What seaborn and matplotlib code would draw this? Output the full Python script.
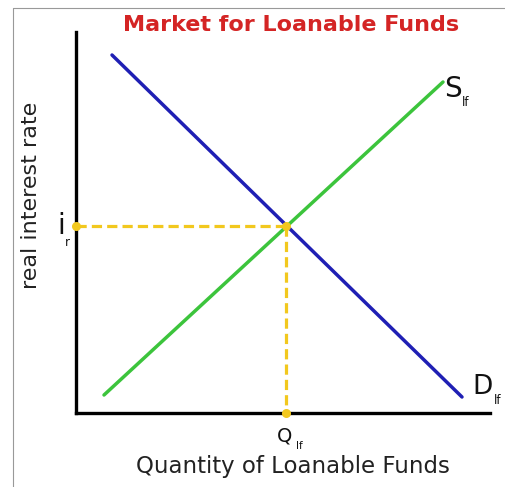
import matplotlib
matplotlib.use("Agg")
import matplotlib.pyplot as plt
import matplotlib.lines as mlines
import seaborn as sns
import pandas as pd

sns.set_theme(style="white")
plt.rcParams['font.family'] = ['DejaVu Sans']

# Data (quantity on x, interest rate on y)
demand_q = [36, 386]
demand_r = [358, 16]
supply_q = [28, 367]
supply_r = [18, 331]
eq_q = 210
eq_r = 187

W, H = 505, 487
fig = plt.figure(figsize=(W / 100, H / 100), dpi=100)
fig.patch.set_facecolor("white")

x0, y0, x1, y1 = 76, 413, 490, 32
ax = fig.add_axes([x0 / W, (H - y0) / H, (x1 - x0) / W, (y0 - y1) / H])
ax.set_xlim(0, x1 - x0)
ax.set_ylim(0, y0 - y1)
ax.set_facecolor("none")

dem = pd.DataFrame({"q": demand_q, "r": demand_r})
sup = pd.DataFrame({"q": supply_q, "r": supply_r})
sns.lineplot(data=dem, x="q", y="r", ax=ax, color="#1f1fb4", lw=2.5, estimator=None, sort=False)
sns.lineplot(data=sup, x="q", y="r", ax=ax, color="#3cc43c", lw=2.5, estimator=None, sort=False)

gold = "#f2c81e"
ax.plot([0, eq_q], [eq_r, eq_r], color=gold, lw=2.3, ls=(0, (3.2, 1.6)), clip_on=False)
ax.plot([eq_q, eq_q], [eq_r, 0], color=gold, lw=2.3, ls=(0, (3.2, 1.6)), clip_on=False)
ax.scatter([0, eq_q, eq_q], [eq_r, eq_r, 0], color=gold, s=30, zorder=5, clip_on=False)

for side in ["top", "right"]:
    ax.spines[side].set_visible(False)
for side in ["left", "bottom"]:
    ax.spines[side].set_color("black")
    ax.spines[side].set_linewidth(2.4)
ax.set_xticks([])
ax.set_yticks([])
ax.set_xlabel("")
ax.set_ylabel("")

# labels
fig.text(291 / W, 1 - 25 / H, "Market for Loanable Funds", color="#d42424",
         fontsize=16, fontweight="bold", ha="center", va="center")
fig.text(293 / W, 1 - 467 / H, "Quantity of Loanable Funds", color="#222222",
         fontsize=16.5, ha="center", va="center")
fig.text(31 / W, 1 - 195 / H, "real interest rate", color="#222222",
         fontsize=16, ha="center", va="center", rotation=90)

fig.text(444 / W, 1 - 89 / H, "S", fontsize=20, ha="left", va="center", color="#111111")
fig.text(462 / W, 1 - 103 / H, "lf", fontsize=8.5, ha="left", va="center", color="#111111")
fig.text(472 / W, 1 - 387 / H, "D", fontsize=19, ha="left", va="center", color="#111111")
fig.text(494 / W, 1 - 401 / H, "lf", fontsize=8.5, ha="left", va="center", color="#111111")
fig.text(61 / W, 1 - 226 / H, "i", fontsize=20, ha="center", va="center", color="#111111")
fig.text(67 / W, 1 - 243 / H, "r", fontsize=8.5, ha="center", va="center", color="#111111")
fig.text(285 / W, 1 - 436 / H, "Q", fontsize=14, ha="center", va="center", color="#111111")
fig.text(299 / W, 1 - 446 / H, "lf", fontsize=7.5, ha="center", va="center", color="#111111")

# frame lines of original image
fig.add_artist(mlines.Line2D([13 / W, 13 / W], [0, 1 - 8 / H], color="#999999", lw=0.8))
fig.add_artist(mlines.Line2D([13 / W, 1], [1 - 8 / H, 1 - 8 / H], color="#999999", lw=0.8))

fig.savefig("out.png", dpi=100, facecolor="white")
